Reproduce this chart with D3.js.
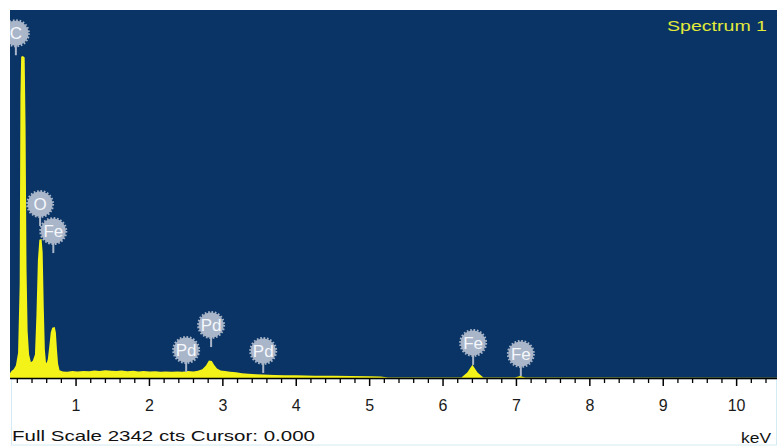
<!DOCTYPE html>
<html>
<head>
<meta charset="utf-8">
<script src="https://cdn.jsdelivr.net/npm/d3@7"></script>
<style>
  html, body { margin: 0; padding: 0; background: #ffffff; }
  svg { display: block; }
  text { font-family: "Liberation Sans", Arial, sans-serif; }
</style>
</head>
<body>
<svg id="chart" width="777" height="447"></svg>
<script>
// ---- data ----
const fullScale = 2342;            // counts at top of plot
const energyDomain = [0.1, 10.55]; // keV shown
const energy = [0.10, 0.12, 0.15, 0.18, 0.21, 0.232, 0.242, 0.252, 0.275, 0.30, 0.312, 0.325, 0.34, 0.36, 0.385, 0.41,
  0.44, 0.46, 0.48, 0.50, 0.53, 0.545, 0.56, 0.575, 0.59, 0.60, 0.615, 0.635, 0.655, 0.675, 0.71, 0.725, 0.74, 0.755, 0.775,
  0.82, 0.88, 0.95, 1.02, 1.10, 1.18, 1.25, 1.32, 1.40, 1.48, 1.55, 1.62, 1.70, 1.78, 1.85, 1.92, 2.00, 2.08, 2.15, 2.22,
  2.30, 2.38, 2.45, 2.52, 2.60, 2.66, 2.72, 2.77, 2.81, 2.85, 2.88, 2.92, 2.97, 3.03, 3.10, 3.18, 3.26, 3.35, 3.45, 3.55,
  3.70, 3.85, 4.00, 4.25, 4.50, 4.75, 5.00, 5.15, 5.25, 6.25, 6.33, 6.40, 6.47, 6.55, 6.98, 7.05, 7.12, 10.55];
const counts = [30, 45, 55, 80, 160, 600, 1800, 2045, 2050, 2040, 1600, 700, 300, 150, 100, 110,
  150, 400, 750, 880, 885, 800, 450, 180, 100, 95, 120, 200, 290, 320, 325, 290, 180, 90, 50,
  42, 40, 44, 41, 45, 43, 47, 45, 49, 46, 44, 47, 43, 46, 42, 44, 41, 43, 40, 42,
  39, 41, 40, 44, 41, 46, 55, 80, 112, 108, 85, 60, 48, 44, 40, 36, 30, 27, 24, 22,
  19, 18, 17, 15, 14, 13, 11, 9, 3, 3, 35, 85, 35, 3, 3, 12, 3, 2];

const peakNames   = ["C", "O", "Fe", "Pd", "Pd", "Pd", "Fe", "Fe"];
const peakEnergy  = [0.18, 0.51, 0.69, 2.50, 2.84, 3.55, 6.41, 7.06];
const peakAnchor  = [2054, 967, 795, 38, 197, 32, 83, 13]; // counts where marker stem ends

const majorTicks = [1, 2, 3, 4, 5, 6, 7, 8, 9, 10];
const minorTicks = d3.range(1, 53).map(i => +(i * 0.2).toFixed(1)).filter(v => v <= 10.45 && Math.abs(v - Math.round(v)) > 1e-6);

const spectrumName = "Spectrum 1";
const footerText = "Full Scale " + fullScale + " cts Cursor: 0.000";
const unitText = "keV";

// ---- layout ----
const plot = { left: 10, right: 777, top: 10, bottom: 378 };
const svg = d3.select("#chart");

const x = d3.scaleLinear().domain(energyDomain).range([plot.left, plot.right]);
const y = d3.scaleLinear().domain([0, fullScale]).range([plot.bottom, plot.top]);

svg.append("defs").append("clipPath").attr("id", "plotClip")
  .append("rect").attr("x", plot.left).attr("y", plot.top)
  .attr("width", plot.right - plot.left).attr("height", plot.bottom - plot.top);

// background
svg.append("rect").attr("x", plot.left).attr("y", plot.top)
  .attr("width", plot.right - plot.left).attr("height", plot.bottom - plot.top)
  .attr("fill", "#093465");

// lower panel faint frame
svg.append("rect").attr("x", 11.5).attr("y", 379).attr("width", 765).attr("height", 66)
  .attr("fill", "none").attr("stroke", "#d4eaf4").attr("stroke-width", 1);

const g = svg.append("g").attr("clip-path", "url(#plotClip)");

const spec = energy.map((e, i) => ({ e, c: counts[i] }));
const area = d3.area().x(d => x(d.e)).y0(y(0)).y1(d => y(d.c)).curve(d3.curveLinear);
g.append("path").datum(spec).attr("d", area).attr("fill", "#f3f31a");

// peak markers
const markers = g.selectAll("g.marker").data(peakNames.map((n, i) => ({ n, e: peakEnergy[i], a: peakAnchor[i] })))
  .join("g").attr("class", "marker")
  .attr("transform", d => `translate(${x(d.e)},${y(d.a)})`);
markers.append("line").attr("x1", 0).attr("x2", 0).attr("y1", 0).attr("y2", -12)
  .attr("stroke", "#a9b5c8").attr("stroke-width", 2);
markers.append("circle").attr("cx", 0).attr("cy", -22).attr("r", 12.5).attr("fill", "#a9b5c8");
markers.append("circle").attr("cx", 0).attr("cy", -22).attr("r", 13).attr("fill", "none")
  .attr("stroke", "#a9b5c8").attr("stroke-width", 2).attr("stroke-dasharray", "1.7,1.7");
markers.append("text").attr("x", 0).attr("y", -22).attr("dy", "0.36em")
  .attr("text-anchor", "middle").attr("font-size", 17).attr("fill", "#f4f7fc").text(d => d.n);

// spectrum name
svg.append("text").attr("x", 767).attr("y", 31).attr("text-anchor", "end")
  .attr("font-size", 15).attr("fill", "#e3ea3a")
  .attr("textLength", 100).attr("lengthAdjust", "spacingAndGlyphs").text(spectrumName);

// axis
const axisG = svg.append("g").attr("transform", `translate(0,${plot.bottom})`);
axisG.append("line").attr("x1", plot.left).attr("x2", plot.right).attr("y1", 0.5).attr("y2", 0.5)
  .attr("stroke", "#000").attr("stroke-width", 1.5);
axisG.selectAll("line.minor").data(minorTicks).join("line").attr("class", "minor")
  .attr("x1", d => x(d)).attr("x2", d => x(d)).attr("y1", 0).attr("y2", 5)
  .attr("stroke", "#000").attr("stroke-width", 1.3);
axisG.selectAll("line.major").data(majorTicks).join("line").attr("class", "major")
  .attr("x1", d => x(d)).attr("x2", d => x(d)).attr("y1", 0).attr("y2", 8)
  .attr("stroke", "#000").attr("stroke-width", 1.5);
axisG.selectAll("text.tick").data(majorTicks).join("text").attr("class", "tick")
  .attr("x", d => x(d)).attr("y", 33).attr("text-anchor", "middle")
  .attr("font-size", 16).attr("fill", "#1a1a1a").text(d => d);

// footer
svg.append("text").attr("x", 12).attr("y", 441).attr("font-size", 15).attr("fill", "#111")
  .attr("textLength", 303).attr("lengthAdjust", "spacingAndGlyphs").text(footerText);
svg.append("text").attr("x", 771).attr("y", 443).attr("text-anchor", "end").attr("font-size", 15)
  .attr("fill", "#111").attr("textLength", 30).attr("lengthAdjust", "spacingAndGlyphs").text(unitText);
</script>
</body>
</html>
